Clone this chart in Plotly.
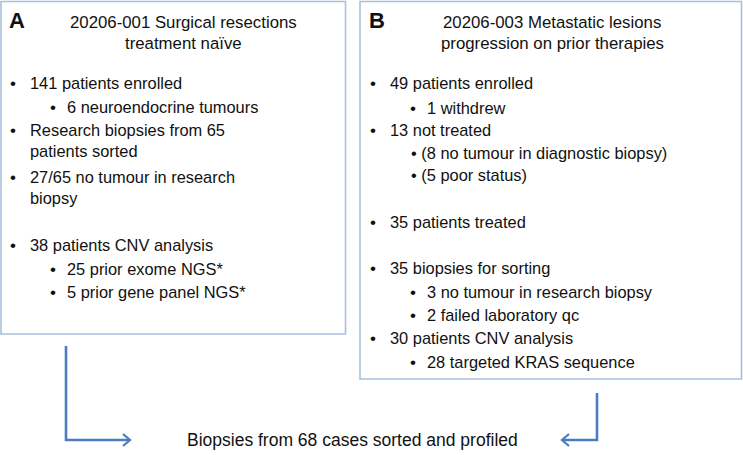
import plotly.graph_objects as go

W, H = 743, 455
FONT = "Liberation Sans, Arial, sans-serif"
TXT = "#111111"
BOX_COL = "#a8c0de"
ARR_COL = "#4a7ebf"

# Panel headings
panel_labels = ["A", "B"]
titles_a = ["20206-001 Surgical resections", "treatment naïve"]
titles_b = ["20206-003 Metastatic lesions", "progression on prior therapies"]

# Bullet lines: (level, text, y)  level 1 = main bullet, 2 = sub bullet, 0 = continuation
lines_a = [
    (1, "141 patients enrolled", 83),
    (2, "6 neuroendocrine tumours", 107),
    (1, "Research biopsies from 65", 130),
    (0, "patients sorted", 151),
    (1, "27/65 no tumour in research", 177),
    (0, "biopsy", 198),
    (1, "38 patients CNV analysis", 245),
    (2, "25 prior exome NGS*", 269),
    (2, "5 prior gene panel NGS*", 292),
]
lines_b = [
    (1, "49 patients enrolled", 83),
    (2, "1 withdrew", 108),
    (1, "13 not treated", 130),
    (3, "(8 no tumour in diagnostic biopsy)", 153),
    (3, "(5 poor status)", 175),
    (1, "35 patients treated", 222),
    (1, "35 biopsies for sorting", 268),
    (2, "3 no tumour in research biopsy", 292),
    (2, "2 failed laboratory qc", 315),
    (1, "30 patients CNV analysis", 338),
    (2, "28 targeted KRAS sequence", 362),
]
footer = "Biopsies from 68 cases sorted and profiled"

fig = go.Figure()
fig.add_trace(go.Scatter(x=[0, W], y=[0, H], mode="markers", marker=dict(opacity=0), hoverinfo="skip", showlegend=False))

shapes = []
# boxes
shapes.append(dict(type="rect", x0=1, y0=1.5, x1=345.5, y1=334, line=dict(color=BOX_COL, width=1.6)))
shapes.append(dict(type="rect", x0=360, y0=1.5, x1=741.5, y1=379, line=dict(color=BOX_COL, width=1.6)))

# arrows
def chevron(xe, ye, direction):
    d = 7 if direction == "right" else -7
    return dict(type="path", path=f"M {xe-d},{ye-6} L {xe},{ye} L {xe-d},{ye+6}",
                line=dict(color=ARR_COL, width=2.2))

shapes.append(dict(type="path", path="M 66,346 L 66,440 L 130,440", line=dict(color=ARR_COL, width=2.6)))
shapes.append(chevron(130, 440, "right"))
shapes.append(dict(type="path", path="M 597,393 L 597,440 L 563,440", line=dict(color=ARR_COL, width=2.6)))
shapes.append(chevron(562, 440, "left"))

ann = []
def text(x, y, s, size=16.4, anchor="left", bold=False):
    ann.append(dict(x=x, y=y, xref="x", yref="y", text=(f"<b>{s}</b>" if bold else s), showarrow=False,
                    xanchor=anchor, yanchor="middle", font=dict(family=FONT, size=size, color=TXT)))

text(7, 20, panel_labels[0], size=22, bold=True)
text(367, 20, panel_labels[1], size=22, bold=True)
text(183, 22, titles_a[0], size=16.8, anchor="center")
text(183, 43, titles_a[1], size=16.8, anchor="center")
text(552, 22, titles_b[0], size=16.8, anchor="center")
text(552, 43, titles_b[1], size=16.8, anchor="center")

def bullets(lines, x0):
    for lvl, s, y in lines:
        if lvl == 1:
            text(x0, y, "•", size=17)
            text(x0 + 20, y, s)
        elif lvl == 0:
            text(x0 + 20, y, s)
        elif lvl == 2:
            text(x0 + 40, y, "•", size=17)
            text(x0 + 57, y, s)
        else:
            text(x0 + 41, y, "• " + s)

bullets(lines_a, 8)
bullets(lines_b, 368)
text(352, 440, footer, size=17.5, anchor="center")

fig.update_layout(
    width=W, height=H, margin=dict(l=0, r=0, t=0, b=0),
    paper_bgcolor="white", plot_bgcolor="white",
    xaxis=dict(range=[0, W], visible=False, fixedrange=True),
    yaxis=dict(range=[H, 0], visible=False, fixedrange=True),
    shapes=shapes, annotations=ann, showlegend=False,
)
fig.write_html("out.html", config={"displayModeBar": False},
               post_script="document.body.style.margin='0';document.body.style.overflow='hidden';")
